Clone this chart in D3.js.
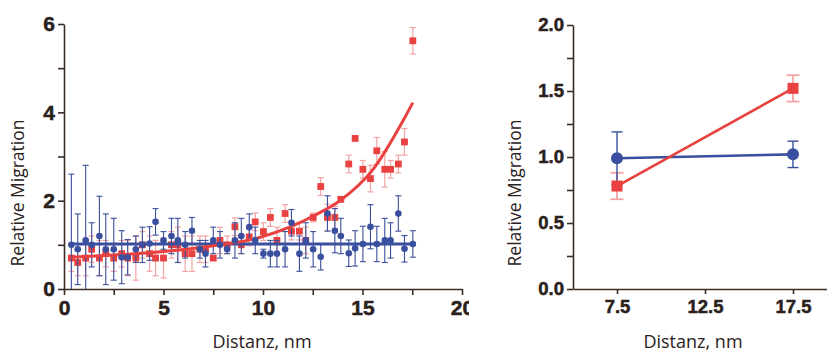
<!DOCTYPE html>
<html><head><meta charset="utf-8">
<script src="https://cdn.jsdelivr.net/npm/d3@7"></script>
<style>
body{margin:0;background:#fff;}
svg{display:block;}
.tick text{font-family:"Liberation Sans",Arial,sans-serif;font-weight:bold;fill:#2a211c;stroke:#2a211c;stroke-width:0.5px;}
.title{font-family:"Open Sans","Noto Sans",sans-serif;fill:#2a211c;}
</style></head>
<body>
<svg id="chart" width="827" height="352"></svg>
<script>
// ---- Left panel data ----
const distX = [0.37,0.69,1.09,1.39,1.78,2.10,2.50,2.90,3.20,3.61,3.94,4.30,4.60,5.00,5.40,5.72,6.09,6.43,6.83,7.11,7.50,7.84,8.20,8.59,8.91,9.31,9.61,10.02,10.37,10.70,11.11,11.43,11.83,12.15,12.52,12.90,13.24,13.61,13.91,14.31,14.63,15.02,15.40,15.72,16.12,16.41,16.80,17.11,17.53];
const blueY = [1.0,0.9,1.1,1.0,1.2,0.9,0.9,0.72,0.72,0.9,1.0,1.03,1.52,1.1,1.2,1.1,1.0,1.32,0.9,0.8,1.1,1.0,0.9,1.1,1.2,1.4,1.1,0.8,0.8,0.8,0.9,1.5,0.8,1.1,0.9,0.73,1.71,1.32,1.2,0.81,0.92,1.02,1.41,1.02,1.1,1.1,1.71,0.91,1.02];
const blueErr = [1.6,0.8,1.7,0.5,0.9,0.8,0.7,0.6,0.4,0.3,0.4,0.38,0.3,0.2,0.4,0.5,0.3,0.3,0.2,0.3,0.3,0.3,0.1,0.4,0.4,0.3,0.3,0.1,0.3,0.3,0.4,0.3,0.4,0.4,0.4,0.3,0.4,0.5,0.4,0.3,0.4,0.4,0.5,0.4,0.5,0.4,0.4,0.3,0.3];
const redY = [0.7,0.6,0.7,0.9,0.7,0.8,0.7,0.8,0.7,0.7,1.0,0.8,0.7,0.7,1.0,1.0,0.8,0.8,0.9,0.9,0.7,1.1,1.0,1.41,1.0,1.18,1.52,1.3,1.62,1.1,1.71,1.31,1.31,1.1,1.62,2.32,1.62,1.62,2.03,2.83,3.41,2.71,2.5,3.13,2.71,2.71,2.83,3.33,5.62];
const redErr = [0.3,0.3,0.4,0.3,0.4,0.3,0.3,0.3,0.4,0.5,0.3,0.4,0.4,0.45,0.3,0.4,0.4,0.4,0.3,0.3,0.05,0.3,0.2,0.2,0.2,0.2,0.2,0.2,0.2,0.3,0.2,0.2,0.2,0.3,0.1,0.2,0.3,0.25,0.05,0.2,0.05,0.2,0.3,0.3,0.4,0.2,0.2,0.3,0.3];
const blueMean = 1.02;
const fitX = [0.37,2.5,5,7.5,9.7,11.4,12.6,13.9,15.5,17.05,17.53];
const fitY = [0.72,0.77,0.85,0.98,1.15,1.41,1.67,2.01,2.69,3.82,4.22];
const leftXTicks = [0,2.5,5,7.5,10,12.5,15,17.5,20];
const leftYTicks = [0,1,2,3,4,5,6];

// ---- Right panel data ----
const rightX = [7.5,17.5];
const rightBlue = [0.99,1.02];
const rightBlueErr = [0.2,0.1];
const rightRed = [0.78,1.52];
const rightRedErr = [0.1,0.1];
const rightXTicks = [7.5,12.5,17.5];
const rightYTicks = [0,0.25,0.5,0.75,1.0,1.25,1.5,1.75,2.0];

const RED="#e8413f", RED_ERR="#f3a3a3", BLUE="#3a4f9d", AXIS="#3a2d26";

const svg = d3.select("#chart");
const defs = svg.append("defs");
defs.append("clipPath").attr("id","clipL").append("rect").attr("x",0).attr("y",0).attr("width",469).attr("height",352);

// ===== LEFT =====
const xL = d3.scaleLinear().domain([0,20]).range([64,462]);
const yL = d3.scaleLinear().domain([0,6]).range([289,24]);
const gL = svg.append("g").attr("clip-path","url(#clipL)");

const lpts = distX.map((x,i)=>({x, b:blueY[i], be:blueErr[i], r:redY[i], re:redErr[i]}));
const clampY = v => Math.max(0,v);

// red error bars
const rErr = gL.append("g").attr("stroke",RED_ERR).attr("stroke-width",1.2).attr("fill","none");
lpts.forEach(d=>{
  const x=xL(d.x), y1=yL(clampY(d.r-d.re)), y2=yL(d.r+d.re);
  rErr.append("line").attr("x1",x).attr("x2",x).attr("y1",y1).attr("y2",y2);
  rErr.append("line").attr("x1",x-3).attr("x2",x+3).attr("y1",y2).attr("y2",y2);
  if(d.r-d.re>0) rErr.append("line").attr("x1",x-3).attr("x2",x+3).attr("y1",y1).attr("y2",y1);
});
// red squares
gL.append("g").selectAll("rect").data(lpts).join("rect")
  .attr("x",d=>xL(d.x)-3.4).attr("y",d=>yL(d.r)-3.4).attr("width",6.8).attr("height",6.8)
  .attr("fill",RED);

// blue error bars
const bErr = gL.append("g").attr("stroke",BLUE).attr("stroke-width",1.1).attr("fill","none");
lpts.forEach(d=>{
  const x=xL(d.x), y1=yL(clampY(d.b-d.be)), y2=yL(d.b+d.be);
  bErr.append("line").attr("x1",x).attr("x2",x).attr("y1",y1).attr("y2",y2);
  bErr.append("line").attr("x1",x-3).attr("x2",x+3).attr("y1",y2).attr("y2",y2);
  if(d.b-d.be>0) bErr.append("line").attr("x1",x-3).attr("x2",x+3).attr("y1",y1).attr("y2",y1);
});
// blue mean line
gL.append("line").attr("x1",xL(distX[0])).attr("x2",xL(distX[distX.length-1]))
  .attr("y1",yL(blueMean)).attr("y2",yL(blueMean)).attr("stroke",BLUE).attr("stroke-width",3);
// red fit curve
gL.append("path").datum(fitX.map((x,i)=>[x,fitY[i]]))
  .attr("d",d3.line().x(d=>xL(d[0])).y(d=>yL(d[1])).curve(d3.curveMonotoneX))
  .attr("fill","none").attr("stroke",RED).attr("stroke-width",3);
// blue points
gL.append("g").selectAll("circle").data(lpts).join("circle")
  .attr("cx",d=>xL(d.x)).attr("cy",d=>yL(d.b)).attr("r",3.3).attr("fill",BLUE);

// axes left
const axL = gL.append("g").attr("transform","translate(0,289)")
  .call(d3.axisBottom(xL).tickValues(leftXTicks).tickSize(6).tickSizeOuter(0).tickPadding(5)
    .tickFormat(d=> d%5===0 ? d3.format("d")(d) : ""));
const ayL = gL.append("g").attr("transform","translate(64,0)")
  .call(d3.axisLeft(yL).tickValues(leftYTicks).tickSize(6).tickSizeOuter(0).tickPadding(3)
    .tickFormat(d=> d%2===0 ? d3.format("d")(d) : ""));
[axL,ayL].forEach(a=>{
  a.selectAll("path,line").attr("stroke",AXIS).attr("stroke-width",1.6);
  a.selectAll("text").attr("font-size",21);
});

svg.append("text").attr("class","title").attr("x",262).attr("y",348)
  .attr("text-anchor","middle").attr("font-size",18).text("Distanz, nm");
svg.append("text").attr("class","title")
  .attr("transform","translate(24,193) rotate(-90)")
  .attr("text-anchor","middle").attr("font-size",17.5).text("Relative Migration");

// ===== RIGHT =====
const xR = d3.scaleLinear().domain([5,20]).range([573,837]);
const yR = d3.scaleLinear().domain([0,2]).range([289,25]);
const gR = svg.append("g");
const rpts = rightX.map((x,i)=>({x,b:rightBlue[i],be:rightBlueErr[i],r:rightRed[i],re:rightRedErr[i]}));

// red error bars
const rrErr = gR.append("g").attr("stroke",RED_ERR).attr("stroke-width",1.8);
rpts.forEach(d=>{
  const x=xR(d.x), y1=yR(d.r-d.re), y2=yR(d.r+d.re);
  rrErr.append("line").attr("x1",x).attr("x2",x).attr("y1",y1).attr("y2",y2);
  [y1,y2].forEach(y=>rrErr.append("line").attr("x1",x-6.5).attr("x2",x+6.5).attr("y1",y).attr("y2",y));
});
// blue error bars
const rbErr = gR.append("g").attr("stroke",BLUE).attr("stroke-width",1.4);
rpts.forEach(d=>{
  const x=xR(d.x), y1=yR(d.b-d.be), y2=yR(d.b+d.be);
  rbErr.append("line").attr("x1",x).attr("x2",x).attr("y1",y1).attr("y2",y2);
  [y1,y2].forEach(y=>rbErr.append("line").attr("x1",x-5.5).attr("x2",x+5.5).attr("y1",y).attr("y2",y));
});
gR.append("path").datum(rpts).attr("d",d3.line().x(d=>xR(d.x)).y(d=>yR(d.b)))
  .attr("fill","none").attr("stroke",BLUE).attr("stroke-width",2.6);
gR.append("path").datum(rpts).attr("d",d3.line().x(d=>xR(d.x)).y(d=>yR(d.r)))
  .attr("fill","none").attr("stroke",RED).attr("stroke-width",2.6);
gR.append("g").selectAll("circle").data(rpts).join("circle")
  .attr("cx",d=>xR(d.x)).attr("cy",d=>yR(d.b)).attr("r",6).attr("fill",BLUE);
gR.append("g").selectAll("rect").data(rpts).join("rect")
  .attr("x",d=>xR(d.x)-5.5).attr("y",d=>yR(d.r)-5.5).attr("width",11).attr("height",11).attr("fill",RED);

const axR = gR.append("g").attr("transform","translate(0,289)")
  .call(d3.axisBottom(xR).tickValues(rightXTicks).tickSize(5).tickSizeOuter(0).tickPadding(6)
    .tickFormat(d3.format(".1f")));
const ayR = gR.append("g").attr("transform","translate(573,0)")
  .call(d3.axisLeft(yR).tickValues(rightYTicks).tickSize(6).tickSizeOuter(0).tickPadding(3)
    .tickFormat(d=> (Math.round(d*100)%50===0) ? d3.format(".1f")(d) : ""));
[axR,ayR].forEach(a=>{
  a.selectAll("path,line").attr("stroke",AXIS).attr("stroke-width",1.6);
  a.selectAll("text").attr("font-size",18.5);
});

svg.append("text").attr("class","title").attr("x",693).attr("y",348)
  .attr("text-anchor","middle").attr("font-size",18).text("Distanz, nm");
svg.append("text").attr("class","title")
  .attr("transform","translate(521,193) rotate(-90)")
  .attr("text-anchor","middle").attr("font-size",17.5).text("Relative Migration");
</script>
</body></html>
